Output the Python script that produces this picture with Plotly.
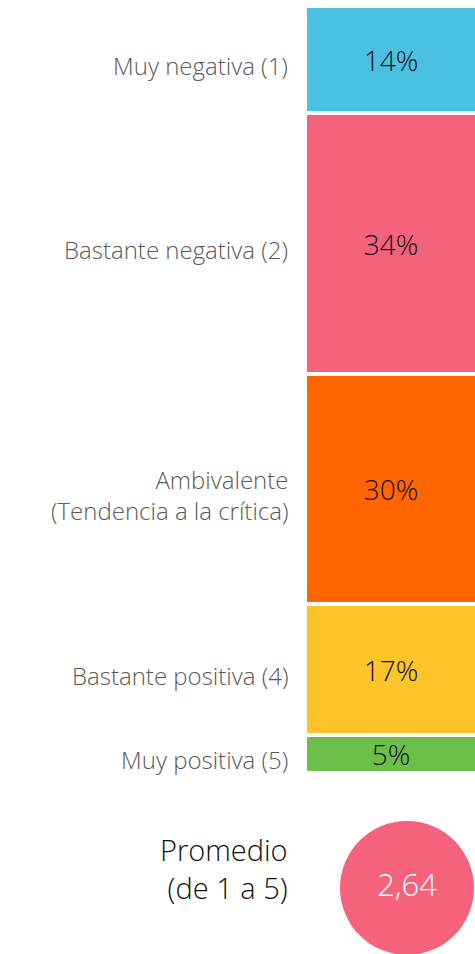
import plotly.graph_objects as go

categories = ["Muy negativa (1)", "Bastante negativa (2)", "Ambivalente<br>(Tendencia a la crítica)",
              "Bastante positiva (4)", "Muy positiva (5)"]
percentages = [14, 34, 30, 17, 5]
colors = ["#4BC1E1", "#F4637B", "#FF6600", "#FDC52A", "#6BBF4A"]
average = 2.64
average_label = "2,64"
average_title = "Promedio<br>(de 1 a 5)"

FONT = "Open Sans"
W, H = 475, 954
top_px, bar_bottom_px = 6, 773
plot_h = H - top_px

fig = go.Figure()

centers = []
acc = 0
for cat, val, col in zip(categories, percentages, colors):
    centers.append(acc + val / 2)
    acc += val
    fig.add_trace(go.Bar(
        x=[0], y=[val], name=cat, marker=dict(color=col, line=dict(color="white", width=4)),
        text=[f"{val}%"], textposition="inside", insidetextanchor="middle", textangle=0,
        constraintext="none",
        textfont=dict(family=FONT, size=28, color="#111111", weight=300),
        width=1, xaxis="x", yaxis="y", hoverinfo="skip", cliponaxis=False,
    ))

fig.add_trace(go.Scatter(
    x=[0], y=[0], mode="markers+text", text=[average_label], textposition="middle center",
    marker=dict(size=134, color="#F4637B", line=dict(width=0)),
    textfont=dict(family=FONT, size=31, color="white", weight=300),
    xaxis="x2", yaxis="y2", hoverinfo="skip", cliponaxis=False, customdata=[average],
))

annotations = []
for cat, c in zip(categories, centers):
    annotations.append(dict(
        text=cat, xref="paper", yref="y", x=-15 / 170, y=c, yshift=-6,
        xanchor="right", yanchor="middle", align="right", showarrow=False,
        font=dict(family=FONT, size=24, color="#5a5a5a", weight=300),
    ))
annotations.append(dict(
    text=average_title, xref="paper", yref="paper",
    x=-15 / 170, y=(H - 868) / plot_h, xanchor="right", yanchor="middle", align="right",
    showarrow=False, font=dict(family=FONT, size=29, color="#111111", weight=300),
))

bar_dom_bottom = (H - bar_bottom_px) / plot_h
fig.update_layout(
    width=W, height=H, margin=dict(l=305, r=0, t=top_px, b=0),
    paper_bgcolor="white", plot_bgcolor="white", showlegend=False,
    barmode="stack", bargap=0,
    xaxis=dict(domain=[0, 1], range=[-0.5, 0.49], visible=False, fixedrange=True),
    yaxis=dict(domain=[bar_dom_bottom, 1], range=[100, 0], visible=False, fixedrange=True),
    xaxis2=dict(domain=[0, 1], range=[-0.6, 0.4], visible=False, anchor="y2"),
    yaxis2=dict(domain=[0, bar_dom_bottom - 0.001], range=[-0.367, 0.633], visible=False, anchor="x2"),
    annotations=annotations,
)

fig.write_html("out.html", config={"displayModeBar": False},
               post_script="document.body.style.margin='0';document.body.style.overflow='hidden';")
